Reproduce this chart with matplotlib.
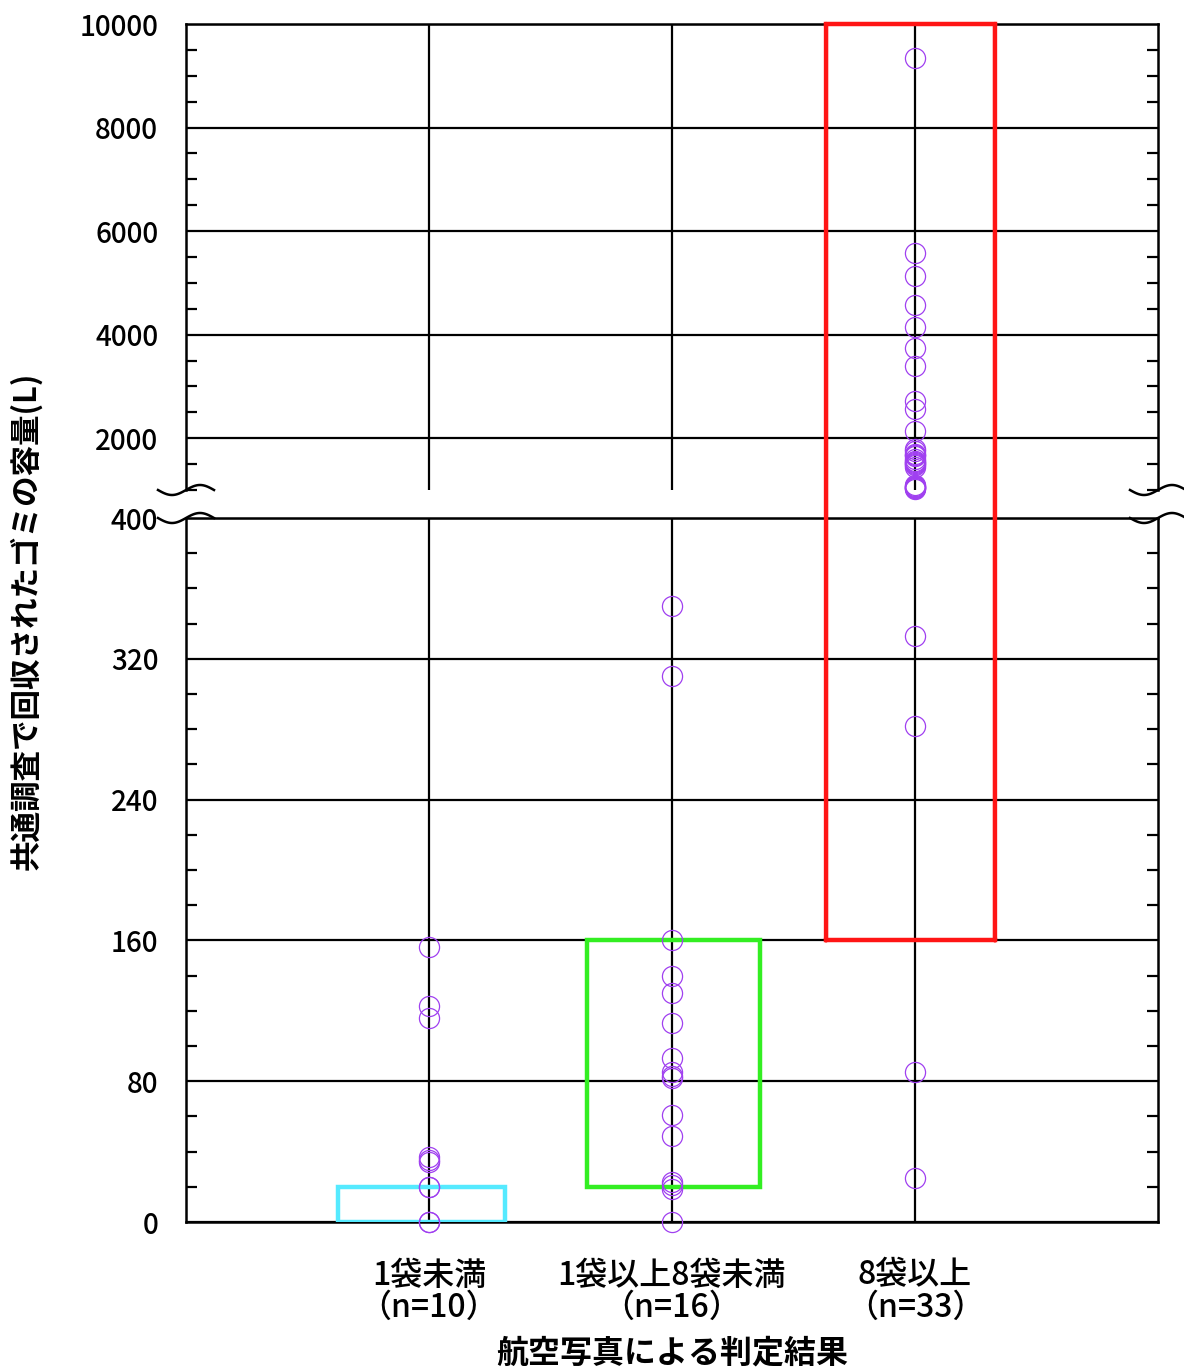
import numpy as np
import matplotlib
matplotlib.use("Agg")
import matplotlib.pyplot as plt
from matplotlib.patches import ConnectionPatch, Rectangle
from matplotlib.ticker import MultipleLocator

plt.rcParams['font.family'] = ['Noto Sans CJK JP', 'DejaVu Sans']

# categories (x = 1, 2, 3)
cats = ['1袋未満\n（n=10）', '1袋以上8袋未満\n（n=16）', '8袋以上\n（n=33）']
xpos = [1, 2, 3]

# collected volume (L) per site
vals_lt1 = [156, 123, 116, 37, 35, 34, 20, 20, 0, 0]
vals_1to8 = [350, 310, 160, 140, 130, 113, 93, 85, 83, 82, 61, 49, 23, 21, 19, 0]
vals_ge8 = [9350, 5570, 5130, 4570, 4150, 3750, 3390, 2720, 2560, 2140,
            1790, 1750, 1700, 1680, 1650, 1600, 1560, 1550, 1520, 1500, 1480, 1450,
            1100, 1080, 1060, 1050, 1040, 1030, 1020,
            333, 282, 85, 25]
groups = [vals_lt1, vals_1to8, vals_ge8]

# judged ranges (x from, x to, y low, y high)
boxes = [(0.626, 1.313, 0, 20, '#55eaff'),
         (1.650, 2.362, 20, 160, '#33ee22'),
         (2.634, 3.329, 160, 10000, '#ff1515')]

brk = 400
top_lim = (1000, 10000)

fig = plt.figure(figsize=(11.84, 13.67), dpi=100)
L, R = 186 / 1184, 1158 / 1184
ax_b = fig.add_axes([L, 1 - 1222 / 1367, R - L, (1222 - 518) / 1367])
ax_t = fig.add_axes([L, 1 - 490 / 1367, R - L, (490 - 24) / 1367])

mc = '#a040f0'
for ax, lo, hi in ((ax_b, 0, brk), (ax_t, top_lim[0], top_lim[1])):
    ax.set_xlim(0, 4)
    for x, g in zip(xpos, groups):
        sel = [v for v in g if lo <= v <= hi]
        ax.plot([x] * len(sel), sel, 'o', mfc='none', mec=mc, ms=14.5, mew=0.9,
                zorder=5, clip_on=False)
    ax.set_xticks(xpos)
    ax.grid(True, color='black', lw=1.6)
    ax.set_axisbelow(True)
    ax.tick_params(axis='y', which='both', direction='in', left=True, right=True,
                   labelsize=20, pad=20, width=1.6)
    ax.tick_params(axis='y', which='major', length=0)
    ax.tick_params(axis='y', which='minor', length=8)
    ax.tick_params(axis='x', length=0)
    for s in ax.spines.values():
        s.set_linewidth(1.8)

ax_b.set_ylim(0, brk)
ax_b.yaxis.set_major_locator(MultipleLocator(80))
ax_b.yaxis.set_minor_locator(MultipleLocator(20))
ax_b.set_xticklabels(cats, fontsize=23, linespacing=1.0)
ax_b.tick_params(axis='x', pad=27)

ax_t.set_ylim(*top_lim)
ax_t.set_yticks([2000, 4000, 6000, 8000, 10000])
ax_t.yaxis.set_minor_locator(MultipleLocator(500))
ax_t.set_xticklabels([])
ax_t.spines['bottom'].set_visible(False)

for lab in ax_b.get_yticklabels() + ax_t.get_yticklabels() + ax_b.get_xticklabels():
    lab.set_fontweight('medium')

ax_b.set_xlabel('航空写真による判定結果', fontsize=23, fontweight='bold', labelpad=10)
fig.text(0.022, 0.546, '共通調査で回収されたゴミの容量(L)', rotation=90,
         fontsize=22, fontweight='bold', ha='center', va='center')

# boxes
for x0, x1, y0, y1, c in boxes:
    if y1 <= brk:
        ax_b.add_patch(Rectangle((x0, y0), x1 - x0, y1 - y0, fill=False,
                                 ec=c, lw=3.2, zorder=4))
    else:
        ax_b.plot([x0, x1], [y0, y0], color=c, lw=3.2, zorder=4, solid_capstyle='projecting')
        ax_t.plot([x0, x1], [y1, y1], color=c, lw=3.2, zorder=4, clip_on=False,
                  solid_capstyle='projecting')
        for xx in (x0, x1):
            cp = ConnectionPatch(xyA=(xx, y0), coordsA=ax_b.transData,
                                 xyB=(xx, y1), coordsB=ax_t.transData,
                                 color=c, lw=3.2, zorder=4)
            fig.add_artist(cp)

# break marks
t = np.linspace(-28, 28, 80)
w = 5 * np.sin(np.pi * t / 28)
for ax, h in ((ax_t, 466), (ax_b, 704)):
    yb = 0 if ax is ax_t else 1
    for xs in (0, 1):
        ax.plot(xs + t / 972, yb + w / h, color='black', lw=1.8,
                transform=ax.transAxes, clip_on=False, zorder=6)

fig.savefig('out.png', dpi=100)
